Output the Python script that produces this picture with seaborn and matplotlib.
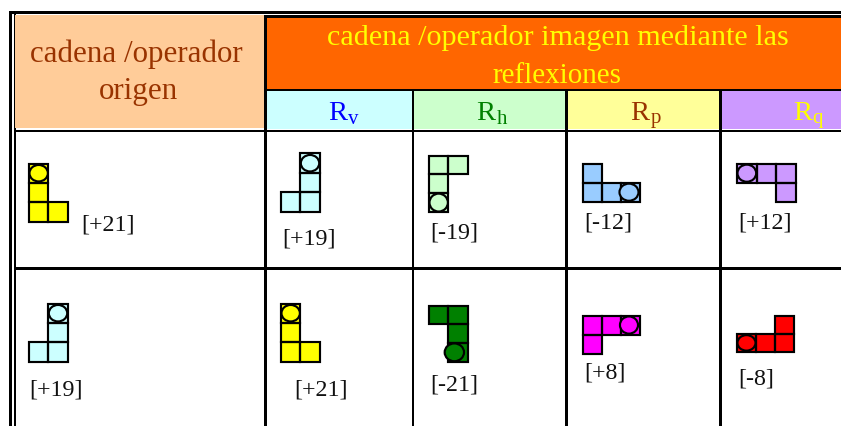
import numpy as np
import seaborn as sns
import matplotlib.pyplot as plt
from matplotlib.colors import ListedColormap
from matplotlib.patches import Rectangle, Ellipse

# Table text
origin_title = ["cadena /operador", "origen"]
image_title = ["cadena /operador imagen mediante las", "reflexiones"]
operators = ["v", "h", "p", "q"]
row1_labels = ["[+21]", "[+19]", "[-19]", "[-12]", "[+12]"]
row2_labels = ["[+19]", "[+21]", "[-21]", "[+8]", "[-8]"]

# Tile patterns (1 = square drawn)
tile_yellow = [[1, 0], [1, 0], [1, 1]]
tile_cyan = [[0, 1], [0, 1], [1, 1]]
tile_ltgreen = [[1, 1], [1, 0], [1, 0]]
tile_blue = [[1, 0, 0], [1, 1, 1]]
tile_purple = [[1, 1, 1], [0, 0, 1]]
tile_green = [[1, 1], [0, 1], [0, 1]]
tile_magenta = [[1, 1, 1], [1, 0, 0]]
tile_red = [[0, 0, 1], [1, 1, 1]]

W, H = 841, 426
SERIF = "Liberation Serif"

sns.set_theme(style="white")
fig = plt.figure(figsize=(W / 100, H / 100), dpi=100)
ax = fig.add_axes([0, 0, 1, 1])
ax.set_xlim(0, W)
ax.set_ylim(H, 0)
ax.axis("off")


def box(x0, y0, x1, y1, color):
    ax.add_patch(Rectangle((x0, y0), x1 - x0, y1 - y0, fc=color, ec="none", lw=0))


def label(x, y, s, color="#111111", size=17.3, ha="left"):
    ax.text(x, y, s, color=color, fontsize=size, family=SERIF, ha=ha, va="baseline")


# table borders
box(9.3, 11, 12.3, H, "black")
box(14, 14, 16, H, "black")
box(9.3, 11, W, 13.7, "black")
box(265, 15, W, 17.6, "black")
box(264, 15, 266.7, H, "black")
box(267, 88.7, W, 91.3, "black")
box(16, 129.5, W, 132, "black")
box(16, 266.8, W, 269.8, "black")
for vx in [411.7, 565.4, 719]:
    box(vx, 89, vx + 2.6, H, "black")

# header fills
box(15, 15, 264, 128.3, "#FFCC99")
box(266.7, 17.6, W, 88.7, "#FF6600")
sub_colors = ["#CCFFFF", "#CCFFCC", "#FFFF99", "#CC99FF"]
sub_edges = [266.7, 414.3, 568, 721.6, W]
sub_ends = [411.7, 565.4, 719, W]
for i in range(4):
    box(sub_edges[i], 91.3, sub_ends[i], 128.6, sub_colors[i])

# header text
label(30, 62, origin_title[0], "#993300", 22.3)
label(139, 99, origin_title[1], "#993300", 22.3, ha="center")
label(327, 45, image_title[0], "#FFFF00", 21.7)
label(557, 83, image_title[1], "#FFFF00", 20.9, ha="center")

op_colors = ["#0000FF", "#008000", "#993300", "#FFFF00"]
op_x = [328, 476.5, 630, 793]
op_sub_x = [348, 497, 651, 812]
for i in range(4):
    label(op_x[i], 120, "R", op_colors[i], 20.5)
    label(op_sub_x[i], 123.5, operators[i], op_colors[i], 15)

# cell labels
row1_x = [81, 282, 430, 584, 738]
row1_y = [230, 245, 239, 229, 229]
row2_x = [29, 294, 430, 584, 738]
row2_y = [395.7, 395.7, 390, 379, 384]
for x, y, s in zip(row1_x, row1_y, row1_labels):
    label(x, y, s)
for x, y, s in zip(row2_x, row2_y, row2_labels):
    label(x, y, s)


def tile(pattern, color, x0, y0, x1, y1, circle, wide=0.95, tall=0.85, shift=0.0):
    grid = np.array(pattern)
    tax = fig.add_axes([x0 / W, 1 - y1 / H, (x1 - x0) / W, (y1 - y0) / H])
    sns.heatmap(grid, mask=grid == 0, cmap=ListedColormap([color]), cbar=False,
                linewidths=0, ax=tax, xticklabels=False, yticklabels=False)
    tax.collections[0].set_clip_on(False)
    tax.axis("off")
    # outline only the squares that exist
    for r, c in zip(*np.nonzero(grid)):
        tax.add_patch(Rectangle((c, r), 1, 1, fc="none", ec="black", lw=1.55, clip_on=False))
    r, c = circle
    tax.add_patch(Ellipse((c + 0.5 + shift, r + 0.5), wide, tall, fc=color, ec="black",
                          lw=1.55, clip_on=False))


tile(tile_yellow, "#FFFF00", 29, 163.5, 67.7, 221.7, (0, 0))
tile(tile_cyan, "#CCFFFF", 281, 153.5, 319.7, 211.7, (0, 1))
tile(tile_ltgreen, "#CCFFCC", 429, 155.5, 467.7, 212, (2, 0), 0.95, 0.95)
tile(tile_blue, "#99CCFF", 583, 163.7, 640, 201.7, (1, 2), 1.0, 0.9, -0.08)
tile(tile_purple, "#CC99FF", 737, 163.7, 796, 201.7, (0, 0), 0.95, 0.9)
tile(tile_cyan, "#CCFFFF", 29, 303.5, 67.7, 361.7, (0, 1))
tile(tile_yellow, "#FFFF00", 281, 303.5, 319.7, 361.7, (0, 0))
tile(tile_green, "#008000", 429, 305.5, 467.7, 361.7, (2, 1), 1.0, 0.95, -0.19)
tile(tile_magenta, "#FF00FF", 583, 315.5, 640, 353.7, (0, 2), 0.95, 0.9, -0.08)
tile(tile_red, "#FF0000", 737, 315.5, 794, 352, (1, 0), 0.95, 0.85)

fig.savefig("out.png", dpi=100)
